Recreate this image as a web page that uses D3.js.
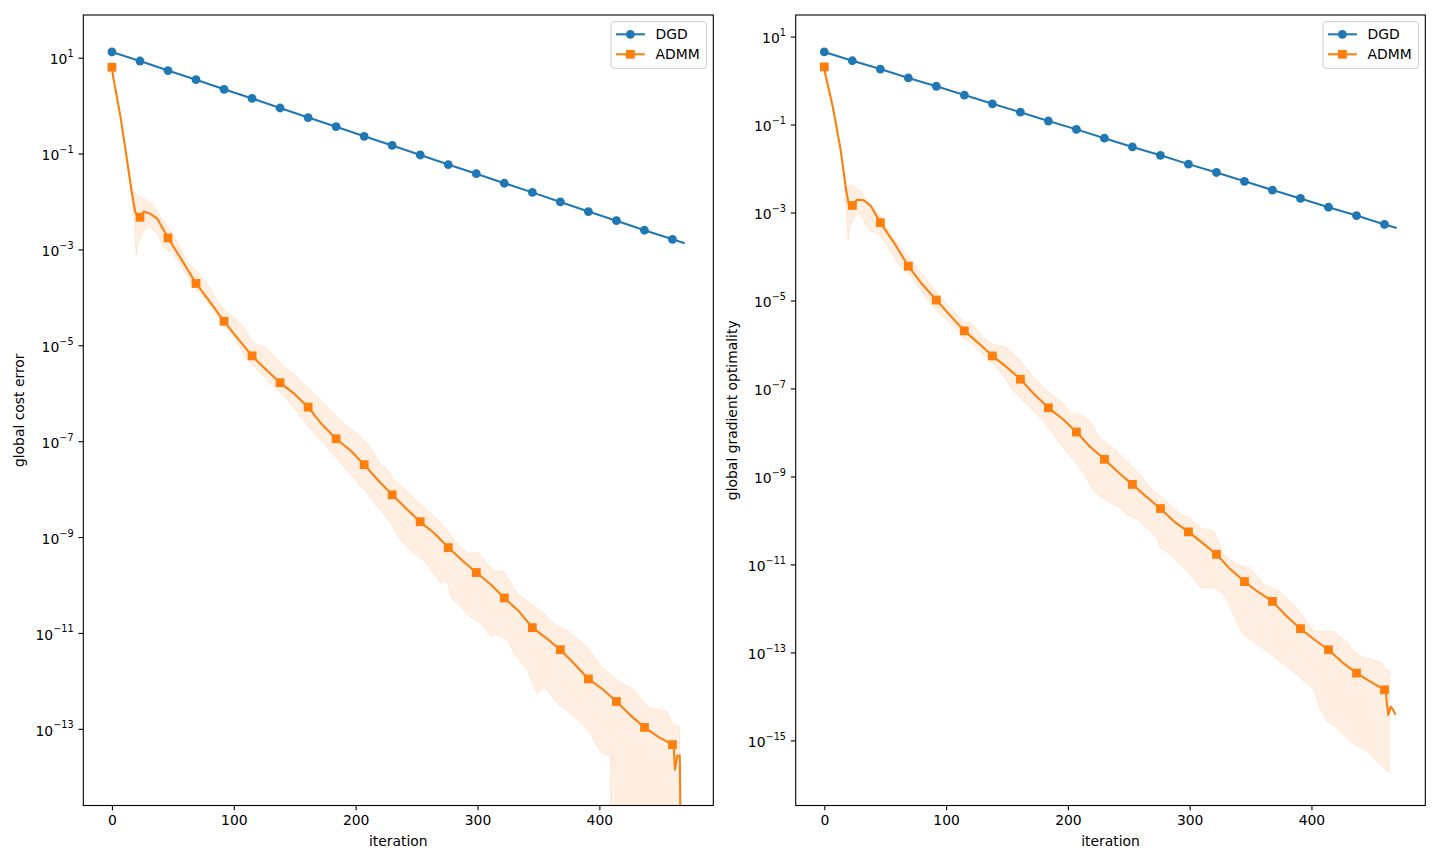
<!DOCTYPE html>
<html>
<head>
<meta charset="utf-8" />
<title>DGD vs ADMM</title>
<style>
  body { margin: 0; padding: 0; background: #fff; }
  svg text { font-family: "DejaVu Sans", sans-serif; fill: #000; }
  .frame { fill: none; stroke: #000; stroke-width: 1.1; }
  .band { fill: #ff7f0e; fill-opacity: 0.12; stroke: #ff7f0e; stroke-opacity: 0.12; stroke-width: 1; }
</style>
</head>
<body>
<script src="https://d3js.org/d3.v7.min.js"></script>
<script>

// ---- data (y values are log10 of the plotted quantity, null = zero, off the log axis)
var xTicks = [0, 100, 200, 300, 400];
var costTickExps = [1, -1, -3, -5, -7, -9, -11, -13];
var gradTickExps = [1, -1, -3, -5, -7, -9, -11, -13, -15];
var seriesNames = ["DGD", "ADMM"];
var markEvery = 23;

var dgdIters = [0, 23, 46, 69, 92, 115, 138, 161, 184, 207, 230, 253, 276, 299, 322, 345, 368, 391, 414, 437, 460, 470];
var dgdCost = [1.12, 0.93, 0.73, 0.54, 0.34, 0.15, -0.05, -0.25, -0.44, -0.64, -0.83, -1.03, -1.23, -1.42, -1.62, -1.81, -2.01, -2.21, -2.40, -2.60, -2.79, -2.87];
var dgdGrad = [0.65, 0.45, 0.26, 0.06, -0.13, -0.33, -0.53, -0.72, -0.92, -1.11, -1.31, -1.51, -1.70, -1.90, -2.09, -2.29, -2.49, -2.68, -2.88, -3.07, -3.27, -3.35];

var admmCostIters = [0, 1, 7, 12, 16, 19, 21, 23, 26, 31, 37, 46, 58, 69, 80, 92, 104, 115, 127, 138,
  150, 161, 172, 184, 196, 207, 219, 230, 242, 253, 265, 276, 288, 299, 311, 322, 334, 345, 357, 368,
  380, 391, 403, 414, 426, 437, 449, 460, 461, 462, 463, 464, 466, 467, 470];
var admmCost = [0.80, 0.60, -0.23, -1.07, -1.76, -2.21, -2.30, -2.33, -2.21, -2.25, -2.35, -2.76, -3.25, -3.71, -4.08, -4.50, -4.88, -5.22, -5.52, -5.78,
  -6.02, -6.29, -6.64, -6.95, -7.20, -7.49, -7.83, -8.12, -8.42, -8.68, -8.93, -9.22, -9.50, -9.74, -9.99, -10.27, -10.55, -10.89, -11.12, -11.35,
  -11.66, -11.96, -12.18, -12.43, -12.73, -12.97, -13.18, -13.33, -13.36, -13.85, -13.70, -13.56, -13.56, null, null];

var costUpperIters = [0, 7, 12, 16, 19, 23, 26, 34, 40, 48, 56, 62, 70, 81, 86, 94, 103, 108, 116, 125, 133, 141, 149, 157, 166, 179, 190, 201, 212, 221,
  226, 231, 245, 251, 264, 275, 281, 292, 300, 308, 314, 322, 333, 344, 352, 363, 374, 390, 402, 415, 429, 440, 456, 460, 466];
var costUpper = [0.83, -0.19, -1.02, -1.70, -1.83, -1.90, -1.94, -2.07, -2.32, -2.60, -2.94, -3.29, -3.45, -3.81, -4.05, -4.30, -4.47, -4.61, -4.95, -5.03, -5.20, -5.45, -5.59, -5.80, -6.00, -6.35, -6.63, -6.84, -7.12, -7.50,
  -7.57, -7.80, -8.10, -8.27, -8.55, -8.86, -9.07, -9.35, -9.31, -9.56, -9.70, -9.73, -10.18, -10.39, -10.53, -10.81, -10.95, -11.30, -11.71, -11.99, -12.20, -12.55, -12.65, -12.89, -12.95];
var costLowerIters = [0, 7, 12, 16, 18, 20, 21, 23, 26, 31, 37, 42, 50, 59, 67, 75, 83, 92, 100, 111, 119, 130, 141, 149, 157, 166, 174, 184, 196, 208,
  221, 229, 237, 248, 256, 270, 275, 278, 286, 294, 303, 311, 314, 325, 330, 333, 341, 349, 355, 366, 377, 391, 402, 409, 410, 411, 412, 413, 466];
var costLower = [0.77, -0.27, -1.12, -1.85, -2.30, -3.12, -2.90, -2.80, -2.60, -2.53, -2.67, -2.94, -3.08, -3.43, -3.78, -3.99, -4.26, -4.61, -4.82, -5.30, -5.50, -5.80, -6.05, -6.30, -6.56, -6.85, -7.05, -7.35, -7.70, -8.05,
  -8.47, -8.72, -9.06, -9.35, -9.49, -9.97, -9.90, -10.25, -10.46, -10.67, -10.81, -11.09, -11.02, -11.15, -11.43, -11.51, -11.78, -12.27, -12.13, -12.48, -12.69, -13.03, -13.52, -13.56, null, -13.56, -13.56, null, null];

var admmGradIters = [0, 1, 7, 13, 18, 20, 23, 27, 32, 38, 46, 58, 69, 80, 92, 104, 115, 127, 138, 150,
  161, 172, 184, 196, 207, 218, 230, 241, 253, 264, 276, 287, 299, 310, 322, 333, 345, 356, 368, 379,
  391, 402, 414, 425, 437, 448, 460, 461, 463, 464, 465, 467, 469];
var admmGrad = [0.31, 0.12, -0.60, -1.51, -2.50, -2.80, -2.84, -2.71, -2.72, -2.84, -3.23, -3.72, -4.22, -4.62, -4.99, -5.36, -5.69, -5.98, -6.26, -6.52,
  -6.79, -7.12, -7.44, -7.70, -7.99, -8.32, -8.61, -8.90, -9.18, -9.45, -9.73, -10.02, -10.26, -10.50, -10.77, -11.10, -11.39, -11.62, -11.84, -12.16,
  -12.46, -12.70, -12.94, -13.22, -13.47, -13.66, -13.85, -13.90, -14.42, -14.35, -14.23, -14.30, -14.42];

var gradUpperIters = [0, 7, 13, 16, 18, 22, 29, 37, 45, 56, 67, 78, 87, 95, 103, 114, 122, 130, 139, 150, 161, 172, 183, 194, 204, 210,
  218, 226, 237, 251, 259, 270, 281, 292, 300, 309, 320, 328, 339, 350, 361, 374, 388, 402, 418, 429, 432, 443, 446, 457, 461, 464];
var gradUpper = [0.34, -0.56, -1.46, -2.00, -2.42, -2.38, -2.49, -2.80, -3.03, -3.56, -3.94, -4.32, -4.63, -4.90, -5.16, -5.46, -5.54, -5.84, -6.00, -6.07, -6.37, -6.75, -7.05, -7.28, -7.59, -7.58,
  -7.73, -8.12, -8.34, -8.72, -8.95, -9.33, -9.56, -9.86, -9.94, -10.17, -10.24, -10.77, -11.00, -11.08, -11.46, -11.61, -11.99, -12.52, -12.52, -12.75, -12.90, -13.13, -13.13, -13.21, -13.39, -13.40];
var gradLowerIters = [0, 7, 13, 16, 18, 19.5, 21, 24, 29, 37, 45, 54, 62, 70, 81, 92, 103, 114, 122, 133, 144, 155, 166, 177, 188, 194,
  210, 221, 232, 243, 248, 259, 273, 276, 284, 298, 309, 320, 328, 336, 344, 352, 363, 374, 388, 402, 407, 413, 418, 432, 446, 454, 463, 464];
var gradLower = [0.28, -0.64, -1.56, -2.20, -2.90, -3.64, -3.33, -3.11, -3.03, -3.41, -3.48, -3.86, -4.24, -4.40, -4.85, -5.23, -5.50, -5.84, -6.00, -6.29, -6.60, -7.05, -7.36, -7.66, -8.04, -8.27,
  -8.80, -9.33, -9.56, -9.71, -9.86, -10.01, -10.39, -10.62, -10.77, -11.15, -11.53, -11.53, -11.68, -12.14, -12.59, -12.75, -12.97, -13.20, -13.50, -13.85, -14.27, -14.57, -14.65, -15.03, -15.26, -15.49, -15.72, -15.72];

// ---- layout
var W = 1440, H = 864;
var plotTop = 15, plotBottom = 805.5;
var fontPx = 13.9, tickLen = 4.86, tickPad = 4.86;
var blue = "#1f77b4", orange = "#ff7f0e";

var svg = d3.select("body").append("svg")
    .attr("width", W)
    .attr("height", H);

function pts(iters, logs) {
  return iters.map(function(it, i) {
    return { x: it, v: logs[i] == null ? 0 : Math.pow(10, logs[i]) };
  });
}

var panels = [
  { id: "cost", left: 83.3, right: 713.3, yMin: -14.60, yMax: 1.89, ticks: costTickExps, label: "global cost error", labelX: 24,
    dgd: dgdCost, admmIters: admmCostIters, admm: admmCost,
    upIters: costUpperIters, up: costUpper, loIters: costLowerIters, lo: costLower },
  { id: "grad", left: 795.7, right: 1425.3, yMin: -16.48, yMax: 1.49, ticks: gradTickExps, label: "global gradient optimality", labelX: 737,
    dgd: dgdGrad, admmIters: admmGradIters, admm: admmGrad,
    upIters: gradUpperIters, up: gradUpper, loIters: gradLowerIters, lo: gradLower }
];

panels.forEach(function(p) {
  var x = d3.scaleLinear().domain([-23.5, 493.5]).range([p.left, p.right]);
  var y = d3.scaleLog().domain([Math.pow(10, p.yMin), Math.pow(10, p.yMax)]).range([plotBottom, plotTop]);
  var yv = function(v) { return v > 0 ? y(v) : plotBottom + 60; };

  svg.append("clipPath").attr("id", "clip-" + p.id)
    .append("rect")
      .attr("x", p.left).attr("y", plotTop)
      .attr("width", p.right - p.left).attr("height", plotBottom - plotTop);

  var plot = svg.append("g").attr("clip-path", "url(#clip-" + p.id + ")");

  var line = d3.line().x(function(d) { return x(d.x); }).y(function(d) { return yv(d.v); });

  // DGD
  var dgdPts = pts(dgdIters, p.dgd);
  plot.append("path")
      .datum(dgdPts)
      .attr("d", line)
      .attr("fill", "none")
      .attr("stroke", blue)
      .attr("stroke-width", 2.08)
      .attr("stroke-linejoin", "round");

  plot.selectAll(".dgd-dot")
      .data(dgdPts.filter(function(d) { return d.x % markEvery === 0; }))
    .enter().append("circle")
      .attr("class", "dgd-dot")
      .attr("cx", function(d) { return x(d.x); })
      .attr("cy", function(d) { return yv(d.v); })
      .attr("r", 4.4)
      .attr("fill", blue);

  // ADMM band
  var upPts = pts(p.upIters, p.up);
  var loPts = pts(p.loIters, p.lo).reverse();
  plot.append("path")
      .attr("class", "band")
      .attr("d", line(upPts.concat(loPts)) + "Z");

  // ADMM mean
  var admmPts = pts(p.admmIters, p.admm);
  plot.append("path")
      .datum(admmPts)
      .attr("d", line)
      .attr("fill", "none")
      .attr("stroke", orange)
      .attr("stroke-width", 2.08)
      .attr("stroke-linejoin", "round");

  plot.selectAll(".admm-sq")
      .data(admmPts.filter(function(d) { return d.x % markEvery === 0 && d.v > 0; }))
    .enter().append("rect")
      .attr("class", "admm-sq")
      .attr("x", function(d) { return x(d.x) - 4.4; })
      .attr("y", function(d) { return yv(d.v) - 4.4; })
      .attr("width", 8.8)
      .attr("height", 8.8)
      .attr("fill", orange);

  // x axis
  var xa = svg.append("g")
      .attr("transform", "translate(0," + plotBottom + ")")
      .call(d3.axisBottom(x).tickValues(xTicks).tickSize(tickLen).tickPadding(tickPad).tickSizeOuter(0));
  xa.select(".domain").remove();
  xa.selectAll("line").attr("stroke-width", 1.1);
  xa.selectAll("text").attr("font-size", fontPx).attr("font-family", "DejaVu Sans");

  // y axis, 10^n labels with superscripts
  var ya = svg.append("g")
      .attr("transform", "translate(" + p.left + ",0)")
      .call(d3.axisLeft(y).tickValues(p.ticks.map(function(e) { return Math.pow(10, e); }))
        .tickFormat("").tickSize(tickLen).tickSizeOuter(0));
  ya.select(".domain").remove();
  ya.selectAll("line").attr("stroke-width", 1.1);
  ya.selectAll(".tick text").each(function(d) {
    var e = Math.round(Math.log10(d));
    var t = d3.select(this)
        .attr("x", -(tickLen + tickPad))
        .attr("dy", null)
        .attr("y", 6.3)
        .attr("text-anchor", "end")
        .attr("font-family", "DejaVu Sans")
        .attr("font-size", fontPx);
    t.append("tspan").text("10");
    t.append("tspan")
        .attr("font-size", 9.7)
        .attr("dy", -7.3)
        .text(e < 0 ? "\u2212" + (-e) : String(e));
  });

  // frame
  svg.append("rect")
      .attr("class", "frame")
      .attr("x", p.left).attr("y", plotTop)
      .attr("width", p.right - p.left).attr("height", plotBottom - plotTop);

  // axis labels
  svg.append("text")
      .attr("x", (p.left + p.right) / 2)
      .attr("y", 846)
      .attr("text-anchor", "middle")
      .attr("font-size", fontPx)
      .text("iteration");

  svg.append("text")
      .attr("transform", "translate(" + p.labelX + "," + ((plotTop + plotBottom) / 2) + ") rotate(-90)")
      .attr("text-anchor", "middle")
      .attr("font-size", fontPx)
      .text(p.label);

  // legend
  var lx = p.right - 6.6 - 95.7, ly = plotTop + 6.7;
  var leg = svg.append("g").attr("transform", "translate(" + lx + "," + ly + ")");
  leg.append("rect")
      .attr("width", 95.7).attr("height", 46.6)
      .attr("rx", 2.8)
      .attr("fill", "#fff").attr("fill-opacity", 0.8)
      .attr("stroke", "#cccccc").attr("stroke-width", 1);

  seriesNames.forEach(function(name, i) {
    var cy = 12.6 + i * 20;
    var col = i === 0 ? blue : orange;
    leg.append("line")
        .attr("x1", 5).attr("x2", 33.8)
        .attr("y1", cy).attr("y2", cy)
        .attr("stroke", col).attr("stroke-width", 2.08);
    if (i === 0) {
      leg.append("circle").attr("cx", 19.4).attr("cy", cy).attr("r", 4.4).attr("fill", col);
    } else {
      leg.append("rect").attr("x", 15).attr("y", cy - 4.4).attr("width", 8.8).attr("height", 8.8).attr("fill", col);
    }
    leg.append("text")
        .attr("x", 44.5)
        .attr("y", cy + 5)
        .attr("font-size", fontPx)
        .text(name);
  });
});

</script>
</body>
</html>
